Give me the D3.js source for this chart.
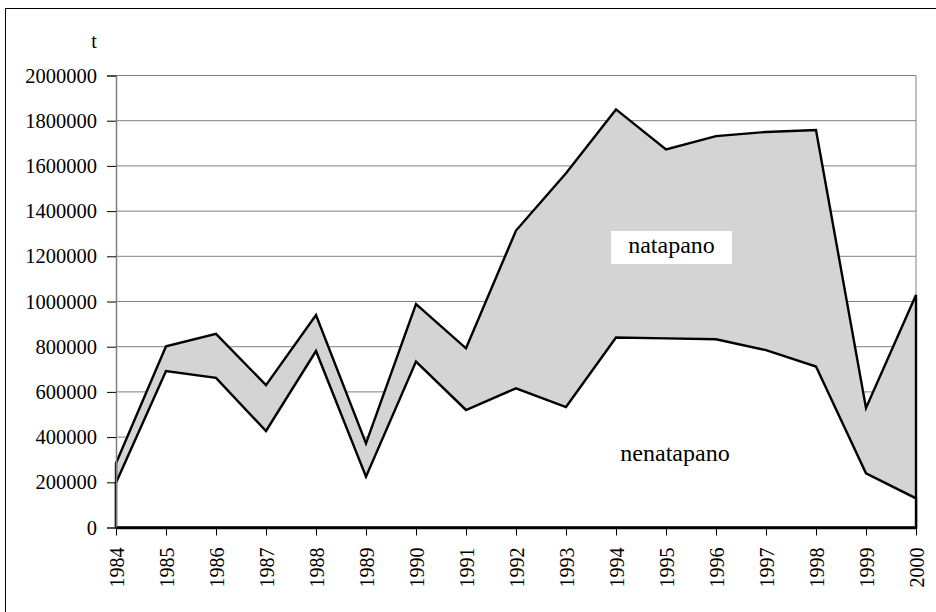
<!DOCTYPE html>
<html>
<head>
<meta charset="utf-8">
<script src="https://cdn.jsdelivr.net/npm/d3@7"></script>
<style>
  html, body { margin: 0; padding: 0; background: #fff; overflow: hidden; }
  svg { display: block; }
  svg text { font-family: 'Liberation Serif', serif; fill: #000; }
</style>
</head>
<body>
<div class="canvas"></div>
<script>
const years = [1984, 1985, 1986, 1987, 1988, 1989, 1990, 1991, 1992, 1993, 1994, 1995, 1996, 1997, 1998, 1999, 2000];
// lower line: nenatapano
const nenatapano = [198000, 692000, 662000, 427000, 781000, 225000, 734000, 520000, 616000, 533000, 841000, 837000, 833000, 785000, 712000, 240000, 129000];
// upper line: total (nenatapano + natapano)
const total = [284000, 802000, 857000, 630000, 940000, 372000, 989000, 793000, 1314000, 1567000, 1850000, 1673000, 1732000, 1750000, 1759000, 529000, 1029000];
const yTicks = [0, 200000, 400000, 600000, 800000, 1000000, 1200000, 1400000, 1600000, 1800000, 2000000];

const width = 936, height = 612;
const margin = {top: 75.5, right: 20, bottom: 84.5, left: 116};
const graphWidth = width - margin.left - margin.right;
const graphHeight = height - margin.top - margin.bottom;

const svg = d3.select('.canvas')
    .append('svg')
    .attr('width', width)
    .attr('height', height);

// outer frame (only left and top edges fall inside the picture)
svg.append('rect')
    .attr('x', 5.5).attr('y', 8.5)
    .attr('width', 960).attr('height', 640)
    .attr('fill', 'none')
    .attr('stroke', '#000')
    .attr('stroke-width', 1);

const graph = svg.append('g')
    .attr('transform', `translate(${margin.left}, ${margin.top})`);

const x = d3.scaleLinear().domain([1984, 2000]).range([0, graphWidth]);
const y = d3.scaleLinear().domain([0, 2000000]).range([graphHeight, 0]);

// grid
graph.append('g')
    .selectAll('line')
    .data(yTicks.filter(d => d > 0))
    .enter().append('line')
    .attr('x1', 0).attr('x2', graphWidth)
    .attr('y1', d => y(d)).attr('y2', d => y(d))
    .attr('stroke', '#808080')
    .attr('stroke-width', 1);

// plot border (right side)
graph.append('line')
    .attr('x1', graphWidth).attr('x2', graphWidth)
    .attr('y1', 0).attr('y2', graphHeight)
    .attr('stroke', '#808080');

const data = years.map((yr, i) => ({year: yr, low: nenatapano[i], top: total[i]}));

const areaTop = d3.area()
    .x(d => x(d.year))
    .y0(graphHeight)
    .y1(d => y(d.top));

const areaLow = d3.area()
    .x(d => x(d.year))
    .y0(graphHeight)
    .y1(d => y(d.low));

graph.append('path')
    .datum(data)
    .attr('d', areaTop)
    .attr('fill', '#d4d4d4')
    .attr('stroke', '#000')
    .attr('stroke-width', 2.4);

graph.append('path')
    .datum(data)
    .attr('d', areaLow)
    .attr('fill', '#fff')
    .attr('stroke', '#000')
    .attr('stroke-width', 2.4);

// axes
const yAxis = d3.axisLeft(y)
    .tickValues(yTicks)
    .tickSize(9)
    .tickPadding(10)
    .tickFormat(d3.format('d'));

const yAxisGroup = graph.append('g').call(yAxis).attr('font-family', null);
yAxisGroup.select('.domain').attr('stroke', '#808080').attr('stroke-width', 1.5);
yAxisGroup.selectAll('.tick line').attr('stroke', '#000');
yAxisGroup.selectAll('text')
    .attr('font-size', 20.5);

const xAxis = d3.axisBottom(x)
    .tickValues(years)
    .tickSize(8)
    .tickSizeOuter(0)
    .tickFormat(d3.format('d'));

const xAxisGroup = graph.append('g')
    .attr('transform', `translate(0, ${graphHeight})`)
    .call(xAxis)
    .attr('font-family', null);
xAxisGroup.select('.domain').attr('stroke', '#000').attr('stroke-width', 2.5);
xAxisGroup.selectAll('text')
    .attr('font-size', 20)
    .attr('transform', 'rotate(-90)')
    .attr('text-anchor', 'end')
    .attr('x', -20)
    .attr('y', 0)
    .attr('dy', '0.35em');

// unit label
svg.append('text')
    .attr('x', 94).attr('y', 48)
    .attr('text-anchor', 'middle')
    .attr('font-size', 20)
    .text('t');

// series labels
svg.append('rect')
    .attr('x', 611).attr('y', 231)
    .attr('width', 121).attr('height', 33)
    .attr('fill', '#fff');

svg.append('text')
    .attr('x', 671.5).attr('y', 253)
    .attr('text-anchor', 'middle')
    .attr('font-size', 24)
    .text('natapano');

svg.append('text')
    .attr('x', 675).attr('y', 461)
    .attr('text-anchor', 'middle')
    .attr('font-size', 24)
    .text('nenatapano');
</script>
</body>
</html>
